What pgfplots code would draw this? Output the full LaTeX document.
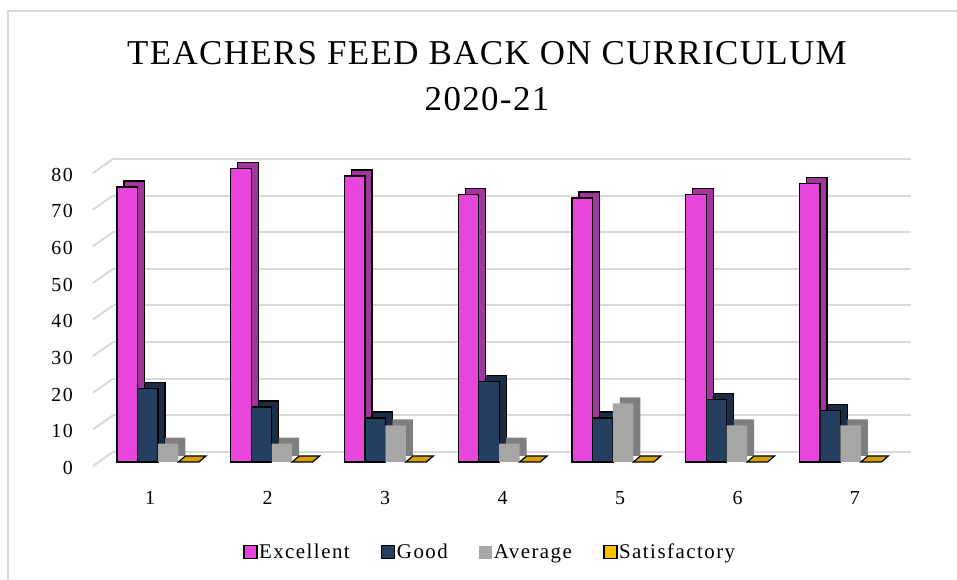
\documentclass[border=0pt]{standalone}
\usepackage{fontspec}
\setmainfont{Liberation Serif}[LetterSpace=7]
\newfontfamily\titlefont{Liberation Serif}[LetterSpace=4]
\usepackage{pgfplots}
\usepackage{pgfplotstable}
\pgfplotsset{compat=1.18}

\definecolor{excf}{HTML}{E845DC}
\definecolor{excs}{HTML}{A3359C}
\definecolor{goodf}{HTML}{243F60}
\definecolor{goods}{HTML}{1A2D45}
\definecolor{avgf}{HTML}{A6A6A6}
\definecolor{avgs}{HTML}{7F7F7F}
\definecolor{satf}{HTML}{FFC000}
\definecolor{sats}{HTML}{D4A10A}
\definecolor{gridc}{HTML}{D9D9D9}

% feedback per question (percent of teachers)
\pgfplotstableread{
cat exc good avg sat
1   75  20   5   0
2   80  15   5   0
3   78  12  10   0
4   73  22   5   0
5   72  12  16   0
6   73  17  10   0
7   76  14  10   0
}\feedback

% flat top face of a zero-height bar (4th bar of the group)
\pgfdeclareplotmark{satflat}{%
  \pgfpathmoveto{\pgfpoint{20.45bp}{0bp}}%
  \pgfpathlineto{\pgfpoint{40.95bp}{0bp}}%
  \pgfpathlineto{\pgfpoint{47.95bp}{6bp}}%
  \pgfpathlineto{\pgfpoint{27.45bp}{6bp}}%
  \pgfpathclose
  \pgfusepathqfillstroke}

\pgfplotsset{
  face/.style={ybar, bar width=0.18, draw=black, line width=1.2bp},
  side/.style={face, forget plot, xshift=7bp, yshift=6bp},
  sq/.style={legend image code/.code={\draw[#1, line width=1.2bp] (0bp,-6.5bp) rectangle (13bp,6.5bp);}},
}

\begin{document}
\begin{tikzpicture}[x=1bp,y=1bp]
\path[use as bounding box] (0,0) rectangle (957,580);
\draw[gridc, line width=2bp] (8,-10) -- (8,569) -- (970,569);

\node[anchor=base, font=\titlefont\fontsize{35}{40}\selectfont] at (487,515) {TEACHERS FEED BACK ON CURRICULUM};
\node[anchor=base, font=\titlefont\fontsize{35}{40}\selectfont] at (487,469) {2020-21};

% back wall: gridlines and category labels
\begin{axis}[
  at={(113bp,128bp)}, anchor=south west,
  scale only axis, width=798bp, height=293bp,
  xmin=0.685, xmax=7.477, ymin=0, ymax=80,
  axis line style={draw=none},
  major tick length=0,
  ytick={0,10,...,80}, yticklabels={},
  ymajorgrids, y grid style={gridc, line width=2bp},
  xtick={1,...,7},
  xticklabel style={anchor=center, yshift=-46bp, font=\fontsize{20}{22}\selectfont},
  /pgf/number format/assume math mode=true,
  clip=false]
  \addplot[draw=none, forget plot] coordinates {(1,0) (7,0)};
  \pgfplotsinvokeforeach{0,10,...,80}{
    \draw[gridc, line width=2bp] (axis cs:0.685,#1) -- ++(-20bp,-14bp);
  }
\end{axis}

% front: bars
\begin{axis}[
  at={(93bp,118bp)}, anchor=south west,
  scale only axis, width=798bp, height=293.4bp,
  xmin=0.429, xmax=7.445, ymin=0, ymax=80,
  axis line style={draw=none},
  major tick length=0,
  xtick=\empty,
  ytick={0,10,...,80},
  yticklabel style={anchor=east, inner sep=0pt, xshift=-20bp, yshift=-6bp, font=\fontsize{20}{22}\selectfont},
  /pgf/number format/assume math mode=true,
  legend columns=4,
  legend style={draw=none, at={(0.4975,-0.307)}, anchor=center,
    font=\fontsize{21}{24}\selectfont,
    nodes={inner xsep=1.5bp},
    /tikz/every even column/.append style={column sep=30bp}},
  clip=false]

  \addplot[side, fill=excs, bar shift=-0.27] table[x=cat, y=exc] {\feedback};
  \addplot[face, fill=excf, bar shift=-0.27, sq={fill=excf, draw=black}] table[x=cat, y=exc] {\feedback};
  \addlegendentry{Excellent}

  \addplot[side, fill=goods, bar shift=-0.09] table[x=cat, y=good] {\feedback};
  \addplot[face, fill=goodf, bar shift=-0.09, sq={fill=goodf, draw=black}] table[x=cat, y=good] {\feedback};
  \addlegendentry{Good}

  \addplot[side, fill=avgs, draw=none, bar shift=0.09] table[x=cat, y=avg] {\feedback};
  \addplot[face, fill=avgf, draw=none, bar shift=0.09, sq={fill=avgf, draw=none}] table[x=cat, y=avg] {\feedback};
  \addlegendentry{Average}

  \addplot[only marks, mark=satflat, mark options={fill=sats, draw=black, line width=1.2bp},
    sq={fill=satf, draw=black}] table[x=cat, y=sat] {\feedback};
  \addlegendentry{Satisfactory}
\end{axis}
\end{tikzpicture}
\end{document}
